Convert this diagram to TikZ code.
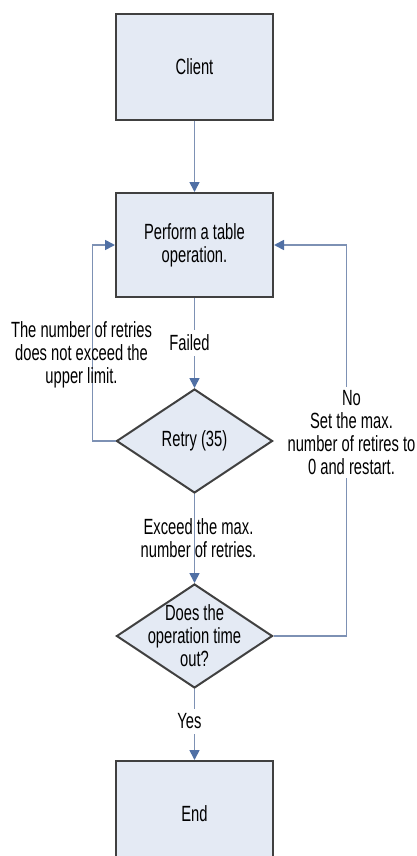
\documentclass[tikz,border=0pt]{standalone}
\usepackage{fontspec}
\setmainfont{Liberation Sans}[FakeStretch=0.67]
\usetikzlibrary{positioning,shapes.geometric,arrows.meta}
\definecolor{boxfill}{RGB}{228,234,244}
\definecolor{boxline}{RGB}{64,64,64}
\definecolor{flowline}{RGB}{125,145,180}
\definecolor{tipcol}{RGB}{80,112,165}

\begin{document}
\begin{tikzpicture}[x=1pt, y=-1pt, node distance=71pt,
  every node/.style={align=center, font=\fontsize{22}{23}\selectfont},
  stepbox/.style={draw=boxline, line width=2pt, fill=boxfill, minimum width=157pt, minimum height=106pt},
  decide/.style={diamond, draw=boxline, line width=2pt, fill=boxfill, minimum width=156pt, minimum height=104pt, inner sep=0pt},
  flow/.style={draw=flowline, line width=1.7pt, -{Triangle[length=10pt, width=10pt, color=tipcol]}}]
\useasboundingbox (0,0) rectangle (417,856);
\node[stepbox] (client) at (194.5,67) {Client};
\node[stepbox, below=of client, minimum height=104pt] (perform) {Perform a table\\operation.};
\node[decide, below=90pt of perform] (retry) {Retry (35)};
\node[decide, below=89pt of retry, label={center:Does the\\operation time\\out?}] (timeout) {};
\node[stepbox, below=of timeout] (end) {End};
\draw[flow] (client) -- (perform);
\draw[flow] (perform) -- node[fill=white, inner sep=5pt, xshift=-5pt] {Failed} (retry);
\draw[flow] (retry) -- node[xshift=4pt] {Exceed the max.\\number of retries.} (timeout);
\draw[flow] (timeout) -- node[fill=white, inner sep=5pt, xshift=-5pt, yshift=3pt] {Yes} (end);
\draw[flow] (retry.west) -- ++(-23,0) |- node[pos=0.22, xshift=-11pt] {The number of retries\\does not exceed the\\upper limit.} (perform.west);
\draw[flow] (timeout.east) -- ++(73,0) |- node[pos=0.26, fill=white, xshift=5pt] {No\\Set the max.\\number of retires to\\0 and restart.} (perform.east);
\end{tikzpicture}
\end{document}
